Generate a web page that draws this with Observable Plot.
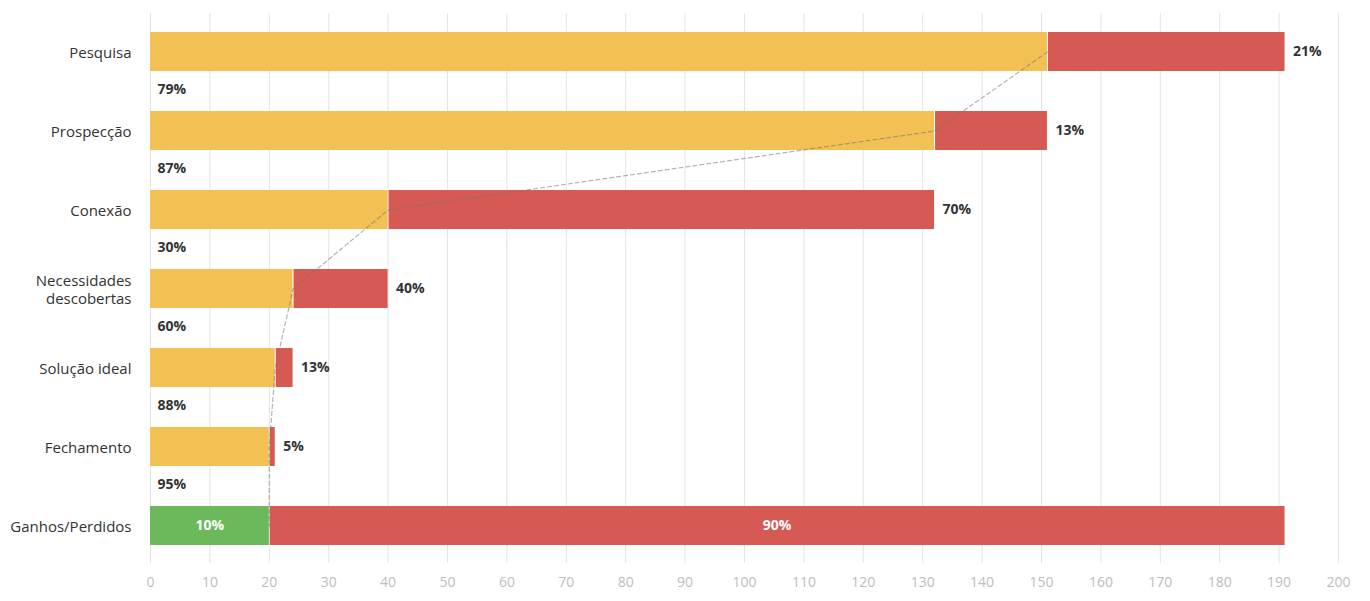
<!DOCTYPE html>
<html>
<head>
<meta charset="utf-8">
<script src="https://cdn.jsdelivr.net/npm/d3@7"></script>
<script src="https://cdn.jsdelivr.net/npm/@observablehq/plot@0.6"></script>
<style>
  html, body { margin: 0; padding: 0; background: #fff; }
  #chart { width: 1370px; height: 601px; }
</style>
</head>
<body>
<div id="chart"></div>
<script>
// Data
const stages = ["Pesquisa", "Prospecção", "Conexão", "Necessidades descobertas", "Solução ideal", "Fechamento", "Ganhos/Perdidos"];
const stageLabels = ["Pesquisa", "Prospecção", "Conexão", "Necessidades\ndescobertas", "Solução ideal", "Fechamento", "Ganhos/Perdidos"];
const totals = [191, 151, 132, 40, 24, 21, 191];
const passed = [151, 132, 40, 24, 21, 20, 20];
const passPct = ["79%", "87%", "30%", "60%", "88%", "95%", "10%"];
const lossPct = ["21%", "13%", "70%", "40%", "13%", "5%", "90%"];
const xTicks = [0, 10, 20, 30, 40, 50, 60, 70, 80, 90, 100, 110, 120, 130, 140, 150, 160, 170, 180, 190, 200];

const YELLOW = "#f3c153";
const RED = "#d65953";
const GREEN = "#6cb95b";

const rows = stages.map((s, i) => ({
  stage: s, total: totals[i], passed: passed[i], pass: passPct[i], loss: lossPct[i],
  final: i === stages.length - 1
}));
const funnelRows = rows.filter(d => !d.final);
const finalRows = rows.filter(d => d.final);
const labelMap = new Map(stages.map((s, i) => [s, stageLabels[i]]));

const chart = Plot.plot({
  width: 1370,
  height: 601,
  marginLeft: 150,
  marginRight: 32,
  marginTop: 13,
  marginBottom: 38,
  style: { fontFamily: "'Open Sans', sans-serif", fontSize: "14px", background: "#fff" },
  x: { domain: [0, 200], label: null },
  y: { domain: stages, paddingInner: 0.51, paddingOuter: 0.21, label: null },
  marks: [
    Plot.gridX(xTicks, { stroke: "#e4e4e4", strokeOpacity: 1 }),
    Plot.axisX(xTicks, { anchor: "bottom", tickSize: 0, tickPadding: 14, fill: "#bdbdbd", fontSize: 14, label: null }),
    Plot.axisY({ tickSize: 0, tickPadding: 19, fill: "#333", fontSize: 15, tickFormat: d => labelMap.get(d), lineHeight: 1.2, label: null }),
    Plot.barX(rows, { x1: 0, x2: "passed", y: "stage", fill: d => d.final ? GREEN : YELLOW }),
    Plot.barX(rows, { x1: "passed", x2: "total", y: "stage", fill: RED, insetLeft: 1 }),
    Plot.line(rows, { x: "passed", y: "stage", curve: "linear", stroke: "#777", strokeOpacity: 0.55, strokeWidth: 1.2, strokeDasharray: "4,3" }),
    Plot.text(funnelRows, { x: "total", y: "stage", text: "loss", dx: 8, textAnchor: "start", fontWeight: "bold", fill: "#333", fontSize: 14 }),
    Plot.text(funnelRows, { x: 0, y: "stage", text: "pass", dx: 7, dy: 38, textAnchor: "start", fontWeight: "bold", fill: "#333", fontSize: 14 }),
    Plot.text(finalRows, { x: d => d.passed / 2, y: "stage", text: "pass", fontWeight: "bold", fill: "#fff", fontSize: 14 }),
    Plot.text(finalRows, { x: d => (d.passed + d.total) / 2, y: "stage", text: "loss", fontWeight: "bold", fill: "#fff", fontSize: 14 })
  ]
});
document.getElementById("chart").appendChild(chart);
</script>
</body>
</html>
